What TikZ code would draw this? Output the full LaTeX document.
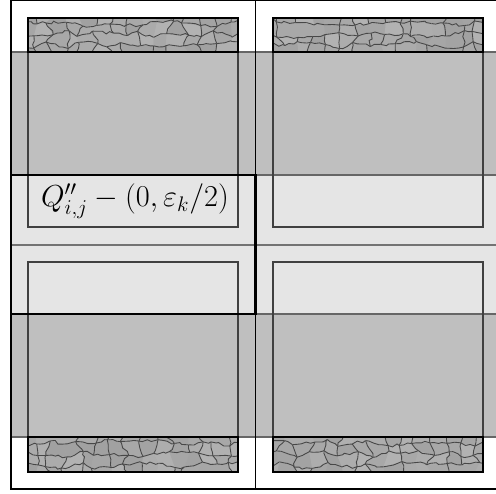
\documentclass[tikz,border=0pt]{standalone}
\usetikzlibrary{decorations.pathmorphing}

% cracked ground texture inside a rectangle (x0,y0,x1,y1)
\newcommand{\crackpatch}[4]{%
  \begin{scope}
    \clip (#1,#2) rectangle (#3,#4);
    \fill[crackbg] (#1,#2) rectangle (#3,#4);
    \foreach \i in {0,...,15}{
      \foreach \j in {0,...,4}{
        \coordinate (p\i-\j) at ({#1-8+\i*15+5*rand},{#2-4+\j*11+3.5*rand});
      }
    }
    \foreach \i [evaluate=\i as \ni using int(\i+1)] in {0,...,14}{
      \foreach \j [evaluate=\j as \nj using int(\j+1)] in {0,...,3}{
        \pgfmathtruncatemacro{\shade}{30+8*rnd}
        \fill[black!\shade] (p\i-\j) -- (p\ni-\j) -- (p\ni-\nj) -- (p\i-\nj) -- cycle;
        \draw[crack] (p\i-\j) -- (p\ni-\j);
        \pgfmathtruncatemacro{\keep}{rnd<0.7}
        \ifnum\keep=1 \draw[crack] (p\i-\j) -- (p\i-\nj);\fi
      }
    }
  \end{scope}
  \draw[crackedge] (#1,#2) rectangle (#3,#4);
}

\begin{document}
\begin{tikzpicture}[
  x=0.02cm,y=0.02cm,
  crackbg/.style={fill=black!33},
  crack/.style={draw=black!72, line width=0.5pt, decorate,
    decoration={random steps, segment length=2.5pt, amplitude=0.9pt}},
  crackedge/.style={draw=black, line width=0.6pt},
  band/.style={fill=black!25},
  lightband/.style={fill=black!10},
  bandline/.style={draw=black!60, line width=0.6pt},
  midline/.style={draw=black!55, line width=0.6pt},
  cellbox/.style={draw=black!75, line width=0.6pt},
  frame/.style={draw=black, line width=0.6pt},
  shifted/.style={draw=black, line width=1.6pt, line join=miter},
  qlabel/.style={font=\fontsize{16.4}{19}\selectfont, inner sep=0pt}
]

% Canvas 496 x 493
\path[use as bounding box] (0,0) rectangle (496,493);
\clip (0,0) rectangle (496,493);
\pgfmathsetseed{5}

% Textured ground (top and bottom of the cells)
\crackpatch{28}{441}{238}{475}
\crackpatch{273}{441}{483}{475}
\crackpatch{28}{21}{238}{56}
\crackpatch{273}{21}{483}{56}

% Horizontal bands
\fill[band] (11,318) rectangle (520,441);
\fill[band] (11,56) rectangle (520,179);
\fill[lightband] (11,179) rectangle (520,318);
\draw[bandline] (11,441) -- (520,441);
\draw[bandline] (11,318) -- (520,318);
\draw[bandline] (11,179) -- (520,179);
\draw[bandline] (11,56) -- (520,56);
\draw[midline] (11,248) -- (520,248);

% Inner cell boxes
\draw[cellbox] (28,266) rectangle (238,475);
\draw[cellbox] (28,21) rectangle (238,231);
\draw[cellbox] (273,266) rectangle (483,475);
\draw[cellbox] (273,21) rectangle (483,231);
\draw[crackedge] (28,441) rectangle (238,475);
\draw[crackedge] (273,441) rectangle (483,475);
\draw[crackedge] (28,21) rectangle (238,56);
\draw[crackedge] (273,21) rectangle (483,56);

% Outer frame
\draw[frame] (520,492.5) -- (11,492.5) -- (11,4) -- (520,4);
\draw[frame] (255.5,4) -- (255.5,492.5);

% Shifted cell
\draw[shifted] (11,179) -- (255.5,179) -- (255.5,318) -- (11,318) -- cycle;
\node[qlabel] (qlabel) at (135,292) {$Q''_{i,j}-(0,\varepsilon_k/2)$};

\end{tikzpicture}
\end{document}
